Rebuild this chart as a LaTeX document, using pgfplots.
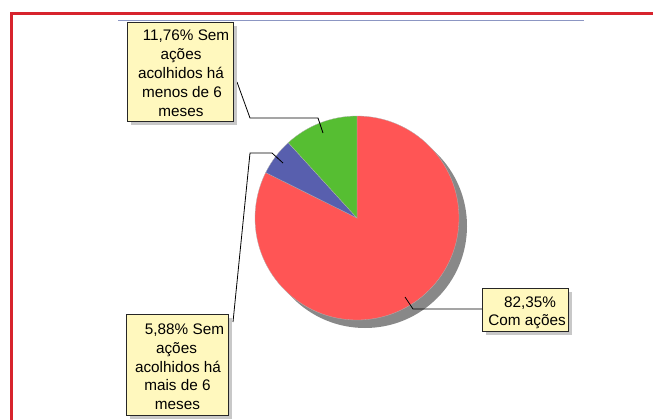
\documentclass[border=0pt]{standalone}
\usepackage{pgfplots}
\pgfplotsset{compat=1.18}
\usepackage{pgfplotstable}
\usepackage{fontspec}
\setmainfont{Liberation Sans}
\definecolor{pred}{RGB}{255,85,85}
\definecolor{pblue}{RGB}{88,95,174}
\definecolor{pgreen}{RGB}{86,190,50}
\definecolor{pshadow}{RGB}{136,136,136}
\definecolor{boxfill}{RGB}{255,248,190}
\definecolor{boxshadow}{RGB}{200,200,200}
\definecolor{frame}{RGB}{215,35,45}
\definecolor{topline}{RGB}{140,150,195}

\pgfplotstableread{
value
82.35
5.88
11.76
}\piedata

\begin{document}
\begin{tikzpicture}
\pgfplotstablegetelem{0}{value}\of\piedata \pgfmathsetmacro\vA{\pgfplotsretval}
\pgfplotstablegetelem{1}{value}\of\piedata \pgfmathsetmacro\vB{\pgfplotsretval}
\pgfplotstablegetelem{2}{value}\of\piedata \pgfmathsetmacro\vC{\pgfplotsretval}
\pgfmathsetmacro\aA{90-3.6*\vA}
\pgfmathsetmacro\aB{\aA-3.6*\vB}
\pgfmathsetmacro\aC{\aB-3.6*\vC}
\begin{axis}[
  scale only axis, width=653pt, height=420pt,
  xmin=0, xmax=653, ymin=0, ymax=420, y dir=reverse,
  hide axis, clip=false, anchor=south west, at={(0,0)}]
% frame
\draw[frame, line width=3pt] (axis cs:11.5,420) -- (axis cs:11.5,13.5) -- (axis cs:653,13.5);
\draw[topline, line width=1pt] (axis cs:118,21) -- (axis cs:584,21);
% pie shadow
\fill[pshadow] (axis cs:365,226) circle[radius=102pt];
% slices
\filldraw[fill=pred, draw=gray!60, line width=0.3pt] (axis cs:357,218) -- ++(90:102pt) arc[start angle=90, end angle=\aA, radius=102pt] -- cycle;
\filldraw[fill=pblue, draw=gray!60, line width=0.3pt] (axis cs:357,218) -- ++(\aA:102pt) arc[start angle=\aA, end angle=\aB, radius=102pt] -- cycle;
\filldraw[fill=pgreen, draw=gray!60, line width=0.3pt] (axis cs:357,218) -- ++(\aB:102pt) arc[start angle=\aB, end angle=\aC, radius=102pt] -- cycle;
% leader lines
\draw[black, line width=0.8pt] (axis cs:237,82) -- (axis cs:250,118) -- (axis cs:318,118) -- (axis cs:323,133);
\draw[black, line width=0.8pt] (axis cs:233,322) -- (axis cs:250,153) -- (axis cs:272,153) -- (axis cs:283,163);
\draw[black, line width=0.8pt] (axis cs:405,297) -- (axis cs:413,309) -- (axis cs:482,309);
% box shadows
\fill[boxshadow] (axis cs:131,26) rectangle (axis cs:237,125);
\fill[boxshadow] (axis cs:130,318) rectangle (axis cs:232,419);
\fill[boxshadow] (axis cs:486,292) rectangle (axis cs:572,335);
% boxes
\filldraw[fill=boxfill, draw=black!85, line width=0.8pt] (axis cs:127,22) rectangle (axis cs:233,121);
\filldraw[fill=boxfill, draw=black!85, line width=0.8pt] (axis cs:126,314) rectangle (axis cs:228,415);
\filldraw[fill=boxfill, draw=black!85, line width=0.8pt] (axis cs:482,288) rectangle (axis cs:568,331);
% texts
\tikzset{lbl/.style={anchor=base, inner sep=0pt, font=\fontsize{15.3}{18.5}\selectfont}}
\node[lbl] at (axis cs:186,40.7) {11,76\% Sem};
\node[lbl] at (axis cs:181,59.5) {ações};
\node[lbl] at (axis cs:181,78.3) {acolhidos há};
\node[lbl] at (axis cs:182,97.1) {menos de 6};
\node[lbl] at (axis cs:181,116) {meses};
\node[lbl] at (axis cs:184.5,334.5) {5,88\% Sem};
\node[lbl] at (axis cs:176.5,353.3) {ações};
\node[lbl] at (axis cs:178,372.1) {acolhidos há};
\node[lbl] at (axis cs:177.5,390.9) {mais de 6};
\node[lbl] at (axis cs:177.5,409.7) {meses};
\node[lbl] at (axis cs:530,307) {82,35\%};
\node[lbl] at (axis cs:527,325) {Com ações};
\end{axis}
\pgfresetboundingbox
\useasboundingbox (0,0) rectangle (653pt,420pt);
\end{tikzpicture}
\end{document}
